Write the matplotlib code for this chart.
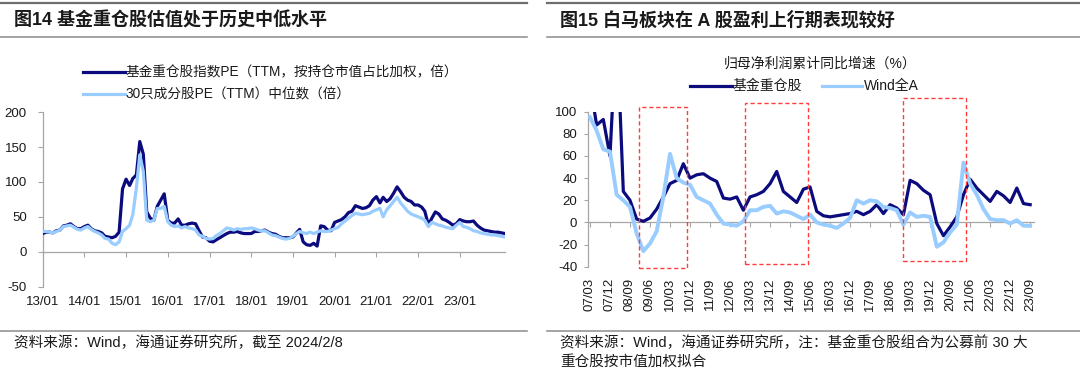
import matplotlib
matplotlib.use('Agg')
import matplotlib.pyplot as plt
import numpy as np
import pandas as pd
from matplotlib.lines import Line2D
from matplotlib.patches import Rectangle

plt.rcParams['font.family'] = ['Liberation Sans', 'Noto Sans CJK SC']

# ---------------- data: left chart (monthly, from 2013-01) ----------------
left_start = '2013-01-01'
fund_pe = [26, 28, 28, 27, 30, 31, 37, 38, 40, 36, 33, 33,
           36, 38, 33, 30, 29, 27, 22, 21, 20, 22, 28, 90,
           104, 95, 105, 110, 158, 140, 57, 48, 45, 65, 74, 83,
           45, 41, 41, 47, 38, 38, 40, 41, 40, 30, 21, 20,
           15, 14, 17, 20, 23, 26, 28, 28, 29, 27, 26, 26,
           26, 29, 29,
           30, 31, 28, 26, 25, 22, 20, 20, 20,
           21, 27, 32, 14, 10, 9, 12, 8, 37, 36, 31, 30,
           42, 44, 46, 50, 56, 58, 66, 64, 62, 63, 66, 74,
           79, 70, 78, 72, 76, 84, 93, 86, 78, 74, 72, 67,
           67, 64, 58, 38, 48, 57, 54, 47, 45, 42, 38, 40,
           46, 44, 43, 43, 44, 38, 34, 31, 30, 29, 28, 28, 27, 26]
median_pe = [29, 29, 28, 27, 29, 31, 36, 37, 38, 35, 32, 31,
             34, 36, 32, 29, 27, 24, 19, 18, 12, 10, 14, 29,
             33, 38, 53, 91, 139, 115, 45, 43, 45, 62, 62, 65,
             43, 38, 36, 37, 34, 36, 34, 33, 31, 24, 22, 19,
             18, 19, 23, 26, 30, 34, 33, 31, 33, 32, 33, 33,
             34, 33, 31,
             30, 30, 27, 24, 23, 21, 19, 18, 19,
             22, 26, 29, 27, 26, 28, 26, 28, 30, 29, 29, 31,
             33, 35, 40, 44, 48, 52, 55, 54, 53, 54, 55, 58,
             60, 62, 50, 60, 66, 72, 78, 70, 64, 58, 54, 52,
             50, 48, 45, 36, 42, 40, 38, 37, 35, 34, 33, 38,
             42, 36, 35, 33, 30, 29, 27, 26, 25, 24, 24, 23, 22, 21]
left_tick_years = list(range(2013, 2024))
left_yticks = [-50, 0, 50, 100, 150, 200]

# ---------------- data: right chart (quarterly, 2007Q1 - 2023Q3) ----------------
quarters = pd.period_range('2007Q1', '2023Q3', freq='Q')
quarter_labels = [f"{q.year % 100:02d}/{q.quarter * 3:02d}" for q in quarters]
fund_growth = [125, 88, 93, 60, 180, 28, 20, 3, 1, 4, 12, 23, 35, 38, 53, 40, 43, 44, 40, 37,
               22, 21, 23, 11, 23, 25, 28, 35, 46, 28, 23, 18, 30, 32, 10, 6, 5, 6, 7, 8,
               10, 7, 10, 16, 8, 16, 13, 7, 38, 35, 29, 25, -1, -12, -4, 5, 25, 39, 31, 25,
               19, 28, 24, 18, 31, 17, 16]
winda_growth = [95, 83, 66, 64, 25, 20, 14, -10, -26, -19, -8, 23, 62, 40, 36, 34, 23, 20, 17, 7,
                -1, -2, -3, 1, 11, 11, 14, 15, 8, 10, 9, 6, 3, 7, 0, -2, -3, -5, -1, 4,
                20, 17, 20, 19, 14, 13, 11, -2, 9, 5, 6, 5, -22, -18, -9, -2, 54, 35, 25, 12,
                3, 2, 2, -1, 2, -3, -3]
right_yticks = [-40, -20, 0, 20, 40, 60, 80, 100]
# highlighted periods (quarter index span, value span)
boxes = [(7.4, 14.6, -41, 104.5), (23.2, 32.7, -38, 107.5), (47.0, 56.4, -35, 112)]

DARK = '#0B0B7E'
LIGHT = '#99CCFF'
GRAY = '#A6A6A6'
RED = '#FF3B3B'

W, H = 1080, 371
fig = plt.figure(figsize=(W / 100, H / 100), dpi=100)

def fx(px):
    return px / W

def fy(py):
    return 1 - py / H

def hline(x0, x1, y, color, lw):
    fig.add_artist(Line2D([fx(x0), fx(x1)], [fy(y), fy(y)], color=color, lw=lw,
                          transform=fig.transFigure))

# header / footer rules
for (x0, x1) in [(0, 527), (547, 1080)]:
    hline(x0, x1, 2.5, '#6E6E6E', 1.6)
    hline(x0, x1, 37, '#8C8C8C', 1.1)
    hline(x0, x1, 331, '#8C8C8C', 1.1)

fig.text(fx(13.5), fy(20.5), '图14 基金重仓股估值处于历史中低水平', fontsize=13, fontweight='bold',
         va='center', ha='left', color='#1a1a1a')
fig.text(fx(560.5), fy(20.5), '图15 白马板块在 A 股盈利上行期表现较好', fontsize=13, fontweight='bold',
         va='center', ha='left', color='#1a1a1a')

fig.text(fx(14.5), fy(342.5), '资料来源：Wind，海通证券研究所，截至 2024/2/8', fontsize=10.5,
         va='center', ha='left', color='#1a1a1a')
fig.text(fx(560.5), fy(342.5), '资料来源：Wind，海通证券研究所，注：基金重仓股组合为公募前 30 大',
         fontsize=10.5, va='center', ha='left', color='#1a1a1a')
fig.text(fx(560.5), fy(362), '重仓股按市值加权拟合', fontsize=10.5, va='center', ha='left',
         color='#1a1a1a')

# ---------------- left chart ----------------
dates = pd.date_range(left_start, periods=len(fund_pe), freq='MS')
L0, L1, T0, B0 = 42.7, 505, 112.3, 286.5
axL = fig.add_axes([fx(L0), fy(B0), fx(L1) - fx(L0), fy(T0) - fy(B0)])
axL.plot(dates, fund_pe, color=DARK, lw=2.3, solid_joinstyle='round', zorder=3)
axL.plot(dates, median_pe, color=LIGHT, lw=2.3, solid_joinstyle='round', zorder=4)
axL.set_xlim(dates[0], dates[-1])
axL.set_ylim(-50, 200)
axL.set_yticks(left_yticks)
axL.set_yticklabels([str(v) for v in left_yticks])
tick_dates = [pd.Timestamp(f'{y}-01-01') for y in left_tick_years]
axL.set_xticks(tick_dates)
axL.set_xticklabels([f'{y % 100:02d}/01' for y in left_tick_years])
axL.tick_params(axis='x', length=0, pad=7, labelsize=9.5, colors='#1a1a1a')
axL.tick_params(axis='y', length=3.5, width=0.8, color=GRAY, pad=8, labelsize=9.5,
                labelcolor='#1a1a1a')
for s in ['top', 'right', 'bottom']:
    axL.spines[s].set_visible(False)
axL.spines['left'].set_color(GRAY)
axL.spines['left'].set_linewidth(0.9)
secL = axL.secondary_xaxis(50 / 250)
secL.set_xticks(tick_dates)
secL.set_xticklabels([])
secL.tick_params(axis='x', direction='out', length=3.5, width=0.8, color=GRAY)
secL.spines['bottom'].set_color(GRAY)
secL.spines['bottom'].set_linewidth(0.9)
for s in ['top', 'left', 'right']:
    if s in secL.spines:
        secL.spines[s].set_visible(False)
axL.patch.set_alpha(0)

# left legend
fig.add_artist(Line2D([fx(83), fx(124.5)], [fy(72), fy(72)], color=DARK, lw=2.3))
fig.text(fx(125.5), fy(72), '基金重仓股指数PE（TTM，按持仓市值占比加权，倍）', fontsize=9.8,
         va='center', ha='left', color='#1a1a1a')
fig.add_artist(Line2D([fx(83), fx(124.5)], [fy(94), fy(94)], color=LIGHT, lw=2.3))
fig.text(fx(125.5), fy(94), '30只成分股PE（TTM）中位数（倍）', fontsize=9.8,
         va='center', ha='left', color='#1a1a1a')

# ---------------- right chart ----------------
xq = np.arange(len(quarter_labels))
R0, R1, RT, RB = 588.3, 1033.5, 111.7, 266.7
axR = fig.add_axes([fx(R0), fy(RB), fx(R1) - fx(R0), fy(RT) - fy(RB)])
axR.plot(xq, fund_growth, color=DARK, lw=2.3, solid_joinstyle='round', zorder=3)
axR.plot(xq, winda_growth, color=LIGHT, lw=2.8, solid_joinstyle='round', zorder=4)
axR.set_xlim(-0.25, 66.5)
axR.set_ylim(-40, 100)
axR.set_yticks(right_yticks)
axR.set_yticklabels([str(v) for v in right_yticks])
tick_idx = xq[::3]
axR.set_xticks(tick_idx)
axR.set_xticklabels([quarter_labels[i] for i in tick_idx], rotation=90)
axR.tick_params(axis='x', length=0, pad=8, labelsize=9.5, colors='#1a1a1a')
axR.tick_params(axis='y', length=3, width=0.8, color=GRAY, pad=5, labelsize=9.5,
                labelcolor='#1a1a1a')
for s in ['top', 'right', 'bottom']:
    axR.spines[s].set_visible(False)
axR.spines['left'].set_color(GRAY)
axR.spines['left'].set_linewidth(0.9)
secR = axR.secondary_xaxis(40 / 140)
secR.set_xticks(tick_idx)
secR.set_xticklabels([])
secR.tick_params(axis='x', direction='out', length=3.5, width=0.8, color=GRAY)
secR.spines['bottom'].set_color(GRAY)
secR.spines['bottom'].set_linewidth(0.9)
for s in ['top', 'left', 'right']:
    if s in secR.spines:
        secR.spines[s].set_visible(False)
axR.patch.set_alpha(0)

for (x0, x1, y0, y1) in boxes:
    axR.add_patch(Rectangle((x0, y0), x1 - x0, y1 - y0, fill=False, ec=RED, lw=1.0,
                            ls=(0, (3, 2)), clip_on=False, zorder=5))

# right subtitle & legend
fig.text(fx(820), fy(63.5), '归母净利润累计同比增速（%）', fontsize=10, va='center', ha='center',
         color='#1a1a1a')
fig.add_artist(Line2D([fx(690), fx(731.5)], [fy(86), fy(86)], color=DARK, lw=2.3))
fig.text(fx(733), fy(86), '基金重仓股', fontsize=10, va='center', ha='left', color='#1a1a1a')
fig.add_artist(Line2D([fx(821.5), fx(861.5)], [fy(86), fy(86)], color=LIGHT, lw=2.3))
fig.text(fx(863.5), fy(86), 'Wind全A', fontsize=10, va='center', ha='left', color='#1a1a1a')

fig.savefig('out.png', dpi=100)
